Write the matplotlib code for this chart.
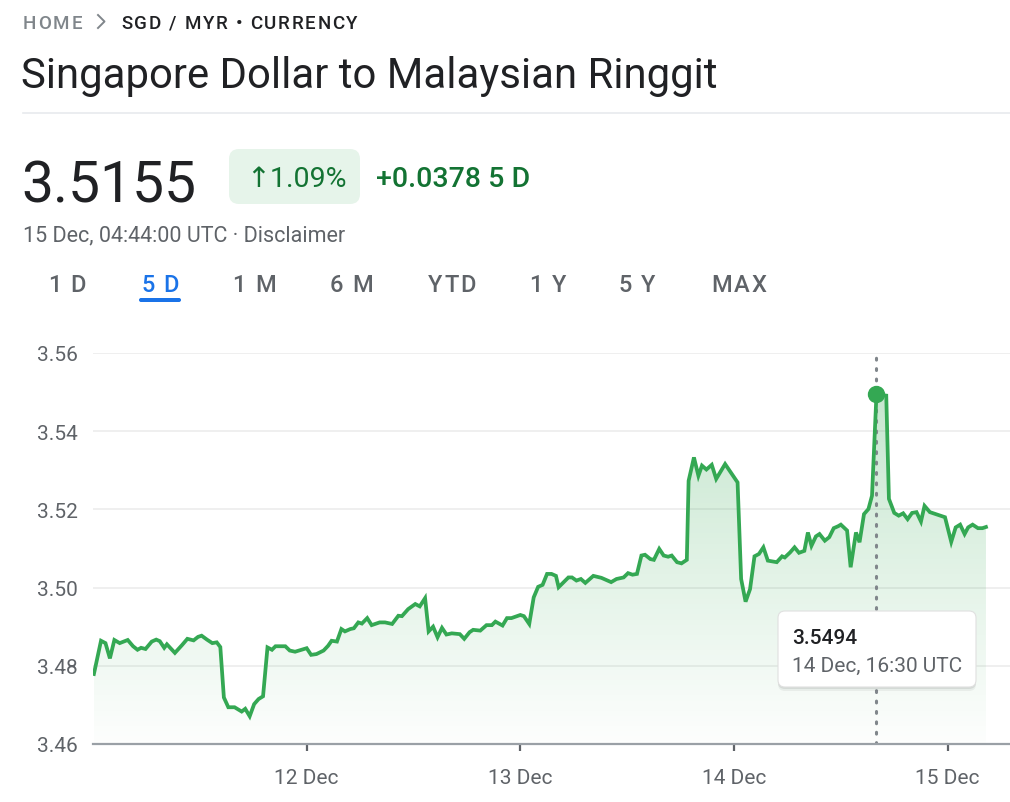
import matplotlib
matplotlib.use("Agg")
import matplotlib.pyplot as plt
import matplotlib.dates as mdates
import matplotlib.transforms as mtransforms
from matplotlib.patches import FancyBboxPatch, PathPatch
from matplotlib.colors import LinearSegmentedColormap
from matplotlib.path import Path
import numpy as np
import pandas as pd

plt.rcParams["font.family"] = ["Roboto", "DejaVu Sans"]

# SGD/MYR rate, hours after 11 Dec 00:00 UTC
hours = [
    0.1, 0.9, 1.4, 1.9, 2.4, 3.0, 3.9, 4.5, 5.0, 5.4, 5.9, 6.6, 7.1, 7.5, 8.0,
    8.3, 9.2, 10.0, 10.6, 11.3, 11.8, 12.2, 12.8, 13.4, 13.9, 14.3, 14.7, 15.2,
    15.9, 16.7,
    17.1, 17.6, 18.1, 18.6, 19.1, 19.6, 20.1, 20.5, 21.6, 22.1, 22.7, 24.0,
    24.5, 25.1, 25.9, 26.4, 26.8, 27.4, 27.9, 28.3, 28.9, 29.3, 29.8, 30.2,
    30.8, 31.3, 32.2, 32.8,
    33.6, 34.3, 34.7, 35.4, 36.2, 36.7, 37.3, 37.7, 38.2, 38.7, 39.2, 39.7,
    40.3, 41.2, 41.7, 42.3, 42.7, 43.5, 44.2, 44.8, 45.2, 46.0, 46.5, 47.0,
    48.0, 48.4, 49.0, 49.5, 50.0,
    50.5, 51.0, 51.5, 52.0, 52.3, 53.4, 53.8, 54.3, 54.8, 55.3, 56.2, 57.1,
    58.2, 58.8, 59.6, 60.1, 60.6, 61.1, 61.6, 62.0, 62.6, 63.0, 63.6, 64.1,
    64.6, 65.0, 65.6, 66.1, 66.7, 66.9,
    67.5, 68.0, 68.4, 68.9, 69.5, 70.0, 71.0, 72.4, 72.8, 73.3, 73.8, 74.3,
    74.8, 75.3, 75.8, 76.8, 77.4, 77.7, 78.3, 78.8, 79.3, 79.9, 80.3, 80.7,
    81.2, 81.6, 82.2, 82.7, 83.2, 83.7,
    84.0, 84.7, 85.1, 85.7, 86.1, 86.6, 87.1, 87.5, 88.0, 89.1, 89.4, 90.0,
    90.5, 91.0, 91.5, 92.0, 92.5, 93.0, 93.4, 94.0, 95.7, 96.4, 96.9, 97.4,
    97.9, 98.3, 98.8, 99.4, 99.9, 100.3,
]
rates = [
    3.4779, 3.4864, 3.4858, 3.4819, 3.4866, 3.4858, 3.4866, 3.4850, 3.4841,
    3.4846, 3.4843, 3.4862, 3.4867, 3.4863, 3.4846, 3.4855, 3.4833, 3.4853,
    3.4869, 3.4865, 3.4874, 3.4877, 3.4867, 3.4858, 3.4860, 3.4848, 3.4719,
    3.4694, 3.4694, 3.4683,
    3.4690, 3.4671, 3.4702, 3.4715, 3.4722, 3.4847, 3.4841, 3.4850, 3.4850,
    3.4839, 3.4836, 3.4845, 3.4828, 3.4830, 3.4839, 3.4851, 3.4864, 3.4862,
    3.4894, 3.4888, 3.4894, 3.4896, 3.4911, 3.4908, 3.4922, 3.4904, 3.4911,
    3.4911,
    3.4907, 3.4928, 3.4927, 3.4945, 3.4958, 3.4952, 3.4973, 3.4888, 3.4900,
    3.4873, 3.4897, 3.4880, 3.4883, 3.4881, 3.4869, 3.4886, 3.4892, 3.4890,
    3.4904, 3.4904, 3.4913, 3.4903, 3.4922, 3.4922, 3.4930, 3.4927, 3.4907,
    3.4975, 3.5002,
    3.5007, 3.5035, 3.5035, 3.5030, 3.5001, 3.5026, 3.5026, 3.5018, 3.5022,
    3.5012, 3.5030, 3.5025, 3.5014, 3.5022, 3.5026, 3.5037, 3.5033, 3.5035,
    3.5082, 3.5084, 3.5073, 3.5071, 3.5099, 3.5082, 3.5079, 3.5082, 3.5065,
    3.5062, 3.5071, 3.5273,
    3.5333, 3.5286, 3.5312, 3.5302, 3.5314, 3.5278, 3.5316, 3.5269, 3.5022,
    3.4964, 3.4996, 3.5080, 3.5086, 3.5103, 3.5069, 3.5065, 3.5080, 3.5077,
    3.5090, 3.5103, 3.5089, 3.5094, 3.5141, 3.5107, 3.5131, 3.5137, 3.5120,
    3.5129, 3.5152, 3.5157,
    3.5161, 3.5146, 3.5052, 3.5141, 3.5116, 3.5188, 3.5201, 3.5235, 3.5494,
    3.5491, 3.5227, 3.5191, 3.5184, 3.5190, 3.5175, 3.5191, 3.5193, 3.5169,
    3.5209, 3.5193, 3.5180, 3.5117, 3.5154, 3.5161, 3.5137, 3.5154, 3.5161,
    3.5152, 3.5152, 3.5155,
]

y_ticks = [3.46, 3.48, 3.50, 3.52, 3.54, 3.56]
day_ticks = ["2023-12-12", "2023-12-13", "2023-12-14", "2023-12-15"]
tab_labels = ["1 D", "5 D", "1 M", "6 M", "YTD", "1 Y", "5 Y", "MAX"]
active_tab = "5 D"

GREEN = "#34a853"
DARK_GREEN = "#137333"
GREY = "#5f6368"
LIGHT_GREY = "#80868b"
BLACK = "#202124"
BLUE = "#1a73e8"

W, H = 1010, 803
start = pd.Timestamp("2023-12-11 00:00")
times = start + pd.to_timedelta(hours, unit="h")
x = mdates.date2num(times.to_pydatetime())
y = np.array(rates)

fig = plt.figure(figsize=(W / 100, H / 100), dpi=100)
fig.patch.set_facecolor("white")
# pixel coordinates measured from the top-left corner
px = mtransforms.Affine2D().scale(1, -1).translate(0, H)
renderer = fig.canvas.get_renderer()


def text_width(s, **kw):
    t = fig.text(0, 0, s, transform=px, **kw)
    w = t.get_window_extent(renderer=renderer).width
    t.remove()
    return w


def spaced_text(x0, y0, s, spacing, ha="left", **kw):
    """Draw text with extra letter spacing (in pixels)."""
    offsets = []
    for i, ch in enumerate(s):
        if ch == " ":
            continue
        pos = text_width(s[: i + 1], **kw) - text_width(ch, **kw)
        offsets.append((ch, pos + i * spacing))
    total = text_width(s, **kw) + (len(s) - 1) * spacing
    if ha == "center":
        x0 = x0 - total / 2
    for ch, off in offsets:
        fig.text(x0 + off, y0, ch, transform=px, **kw)


ax = fig.add_axes([93 / W, (H - 745) / H, (W - 93) / W, (745 - 354) / H])
x_end = mdates.date2num(start + pd.Timedelta(hours=103))
ax.set_xlim(mdates.date2num(start), x_end)
ax.set_ylim(3.46, 3.56)

# gradient fill under the line
verts = [(x[0], 3.46)] + list(zip(x, y)) + [(x[-1], 3.46)]
clip = PathPatch(Path(verts), facecolor="none", edgecolor="none")
ax.add_patch(clip)
cmap = LinearSegmentedColormap.from_list(
    "fade", [(0.204, 0.659, 0.325, 0.01), (0.204, 0.659, 0.325, 0.28)]
)
grad = np.linspace(0, 1, 256).reshape(-1, 1)
img = ax.imshow(grad, cmap=cmap, aspect="auto", origin="lower",
                extent=[x[0], x[-1], 3.46, y.max()], zorder=1,
                interpolation="bilinear")
img.set_clip_path(clip)

ax.plot(x, y, color=GREEN, linewidth=2.7, solid_joinstyle="miter", zorder=3)

# hovered point
hi = int(np.argmax(y))
ax.axvline(x[hi], ymin=0, ymax=0.99, color=LIGHT_GREY, linewidth=2.2,
           linestyle=(0, (0.6, 2.8)), dash_capstyle="round", zorder=2)
ax.plot(x[hi], y[hi], "o", color=GREEN, markersize=11.5, zorder=4,
        clip_on=False)

ax.set_yticks(y_ticks)
ax.set_yticklabels([f"{v:.2f}" for v in y_ticks])
ax.set_xticks(mdates.date2num(pd.to_datetime(day_ticks).to_pydatetime()))
ax.xaxis.set_major_formatter(mdates.DateFormatter("%d %b"))
ax.yaxis.grid(True, color="#eeeeee", linewidth=1.3)
ax.set_axisbelow(True)
for side in ["top", "left", "right"]:
    ax.spines[side].set_visible(False)
ax.spines["bottom"].set_color("#9aa0a6")
ax.spines["bottom"].set_linewidth(1.6)
ax.tick_params(axis="y", length=0, pad=11, labelsize=15, labelcolor=GREY)
ax.tick_params(axis="x", length=5, width=1.6, color=GREY, pad=12,
               labelsize=15, labelcolor=GREY)

# tooltip
for off, a in [(4, 0.05), (2, 0.08)]:
    fig.add_artist(FancyBboxPatch((778, 612 + off), 198, 76,
                                  boxstyle="round,pad=0,rounding_size=7",
                                  transform=px, facecolor="black", alpha=a,
                                  edgecolor="none"))
fig.add_artist(FancyBboxPatch((778, 612), 198, 76,
                              boxstyle="round,pad=0,rounding_size=7",
                              transform=px, facecolor="white",
                              edgecolor="#e0e0e0", linewidth=0.8))
fig.text(792, 644, f"{y[hi]:.4f}", transform=px, fontsize=15, color=BLACK,
         fontweight="medium")
fig.text(792, 672, "14 Dec, 16:30 UTC", transform=px, fontsize=15,
         color=GREY)

# header
spaced_text(23, 29, "HOME", 1.8, fontsize=13.5, color=LIGHT_GREY,
            fontweight="medium")
fig.add_artist(plt.Line2D([98, 104.5, 98], [16, 22.5, 29], transform=px,
                          color=LIGHT_GREY, linewidth=1.4))
spaced_text(121, 29, "SGD / MYR • CURRENCY", 1.7, fontsize=13.5,
            color=BLACK, fontweight="medium")
fig.text(21, 88, "Singapore Dollar to Malaysian Ringgit", transform=px,
         fontsize=30.2, color=BLACK)
fig.add_artist(plt.Line2D([23, W], [114, 114], transform=px,
                          color="#e8eaed", linewidth=1.2))

fig.text(21, 203, "3.5155", transform=px, fontsize=41, color=BLACK)
fig.add_artist(FancyBboxPatch((229, 150), 131, 55,
                              boxstyle="round,pad=0,rounding_size=10",
                              transform=px, facecolor="#e6f4ea",
                              edgecolor="none"))
fig.text(296, 187, "↑1.09%", transform=px, fontsize=20.5, color=DARK_GREEN,
         ha="center")
fig.text(376, 187, "+0.0378 5 D", transform=px, fontsize=20.5,
         color=DARK_GREEN, fontweight="medium")
fig.text(23, 241, "15 Dec, 04:44:00 UTC · Disclaimer", transform=px,
         fontsize=15.5, color=GREY)

tab_x = [67, 160, 254, 351, 452, 548, 637, 739]
for label, tx in zip(tab_labels, tab_x):
    is_active = label == active_tab
    spaced_text(tx, 292, label, 1.6, ha="center", fontsize=17,
                color=BLUE if is_active else GREY, fontweight="medium")
fig.add_artist(FancyBboxPatch((139, 299), 42, 4,
                              boxstyle="round,pad=0,rounding_size=2",
                              transform=px, facecolor=BLUE, edgecolor="none"))

fig.savefig("out.png", dpi=100, facecolor="white")
